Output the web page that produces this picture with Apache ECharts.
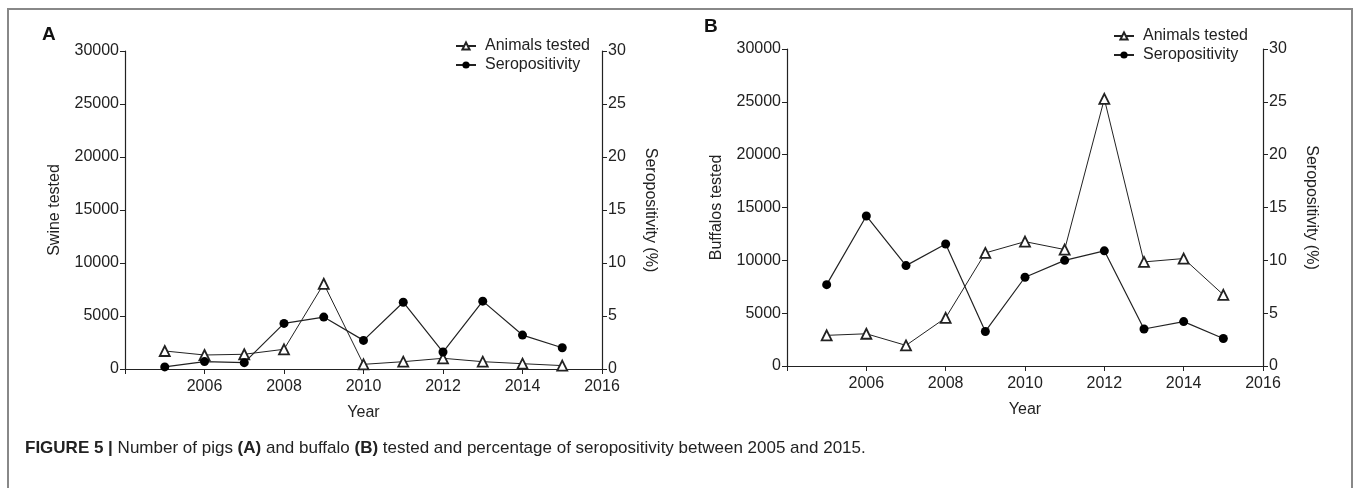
<!DOCTYPE html>
<html>
<head>
<meta charset="utf-8">
<script src="https://cdn.jsdelivr.net/npm/echarts@6/dist/echarts.min.js"></script>
<style>
html,body{margin:0;padding:0;background:#fff;}
#c{width:1358px;height:488px;}
</style>
</head>
<body>
<div id="c"></div>
<script>
// ---- data ----
const years = [2005, 2006, 2007, 2008, 2009, 2010, 2011, 2012, 2013, 2014, 2015];
const swineTested = [1700, 1320, 1390, 1860, 8040, 440, 690, 1010, 690, 500, 320];
const swineSeropositivity = [0.2, 0.7, 0.6, 4.3, 4.9, 2.7, 6.3, 1.6, 6.4, 3.2, 2.0];
const buffaloTested = [2900, 3050, 1950, 4560, 10700, 11770, 11020, 25280, 9850, 10170, 6740];
const buffaloSeropositivity = [7.7, 14.2, 9.5, 11.55, 3.27, 8.4, 10.0, 10.9, 3.5, 4.2, 2.6];
const xTicks = [2004, 2006, 2008, 2010, 2012, 2014, 2016];
const leftTicks = [0, 5000, 10000, 15000, 20000, 25000, 30000];
const rightTicks = [0, 5, 10, 15, 20, 25, 30];

const FONT = '"Liberation Sans", Arial, sans-serif';
const INK = '#222';
const pair = (xs, ys) => xs.map((x, i) => [x, ys[i]]);

function xAxis(gi) {
  return {
    type: 'value', gridIndex: gi,
    min: xTicks[0], max: xTicks[xTicks.length - 1], interval: 2,
    name: 'Year', nameLocation: 'middle', nameGap: 36,
    nameTextStyle: {fontFamily: FONT, fontSize: 16, color: INK},
    axisLine: {show: true, lineStyle: {color: INK, width: 1.2}},
    axisTick: {show: true, length: 5, inside: false, lineStyle: {color: INK}},
    axisLabel: {fontFamily: FONT, fontSize: 16, color: INK, margin: 10,
      formatter: v => v === xTicks[0] ? '' : String(v)},
    splitLine: {show: false}
  };
}
function leftAxis(gi, name) {
  return {
    type: 'value', gridIndex: gi, position: 'left',
    min: leftTicks[0], max: leftTicks[leftTicks.length - 1], interval: 5000,
    name: name, nameLocation: 'middle', nameGap: 62,
    nameTextStyle: {fontFamily: FONT, fontSize: 16, color: INK},
    axisLine: {show: true, lineStyle: {color: INK, width: 1.2}},
    axisTick: {show: true, length: 5, lineStyle: {color: INK}},
    axisLabel: {fontFamily: FONT, fontSize: 16, color: INK, margin: 6,
      formatter: v => String(v)},
    splitLine: {show: false}
  };
}
function rightAxis(gi) {
  return {
    type: 'value', gridIndex: gi, position: 'right',
    min: rightTicks[0], max: rightTicks[rightTicks.length - 1], interval: 5,
    name: 'Seropositivity (%)', nameLocation: 'middle', nameGap: 40, nameRotate: -90,
    nameTextStyle: {fontFamily: FONT, fontSize: 16, color: INK},
    axisLine: {show: true, lineStyle: {color: INK, width: 1.2}},
    axisTick: {show: true, length: 5, lineStyle: {color: INK}},
    axisLabel: {fontFamily: FONT, fontSize: 16, color: INK, margin: 6,
      formatter: v => String(v)},
    splitLine: {show: false}
  };
}
function triSeries(xi, yi, data) {
  return {
    name: 'Animals tested', type: 'line', xAxisIndex: xi, yAxisIndex: yi,
    data: data, symbol: 'triangle', symbolSize: 10, showAllSymbol: true,
    lineStyle: {color: INK, width: 1},
    itemStyle: {color: '#fff', borderColor: INK, borderWidth: 1.8},
    z: 3, animation: false
  };
}
function dotSeries(xi, yi, data) {
  return {
    name: 'Seropositivity', type: 'line', xAxisIndex: xi, yAxisIndex: yi,
    data: data, symbol: 'circle', symbolSize: 9, showAllSymbol: true,
    lineStyle: {color: INK, width: 1.2},
    itemStyle: {color: '#000', borderColor: '#000', borderWidth: 0},
    z: 4, animation: false
  };
}
function legend(left, top) {
  return {
    left: left, top: top, orient: 'vertical', itemGap: 3,
    itemWidth: 20, itemHeight: 9, selectedMode: false,
    textStyle: {fontFamily: FONT, fontSize: 16, color: INK, padding: [0, 0, 0, 4]},
    data: ['Animals tested', 'Seropositivity']
  };
}

const chart = echarts.init(document.getElementById('c'), null, {renderer: 'canvas'});
chart.setOption({
  animation: false,
  backgroundColor: '#fff',
  grid: [
    {left: 125, right: 1358 - 602, top: 51, bottom: 488 - 369},
    {left: 787, right: 1358 - 1263, top: 49, bottom: 488 - 366}
  ],
  xAxis: [xAxis(0), xAxis(1)],
  yAxis: [leftAxis(0, 'Swine tested'), rightAxis(0), leftAxis(1, 'Buffalos tested'), rightAxis(1)],
  legend: [legend(450, 33), legend(1108, 23)],
  series: [
    triSeries(0, 0, pair(years, swineTested)),
    dotSeries(0, 1, pair(years, swineSeropositivity)),
    triSeries(1, 2, pair(years, buffaloTested)),
    dotSeries(1, 3, pair(years, buffaloSeropositivity))
  ],
  graphic: [
    {type: 'rect', shape: {x: 8, y: 9, width: 1344, height: 490},
     style: {fill: 'none', stroke: '#888', lineWidth: 2}, silent: true},
    {type: 'text', left: 42, top: 25,
     style: {text: 'A', font: 'bold 19px ' + FONT, fill: '#111'}},
    {type: 'text', left: 704, top: 17,
     style: {text: 'B', font: 'bold 19px ' + FONT, fill: '#111'}},
    {type: 'text', left: 25, top: 440,
     style: {
       text: '{b|FIGURE 5 |} Number of pigs {b|(A)} and buffalo {b|(B)} tested and percentage of seropositivity between 2005 and 2015.',
       font: '17px ' + FONT, fill: '#222',
       rich: {b: {fontFamily: FONT, fontSize: 17, fontWeight: 'bold', fill: '#222'}}
     }}
  ]
});
</script>
</body>
</html>
